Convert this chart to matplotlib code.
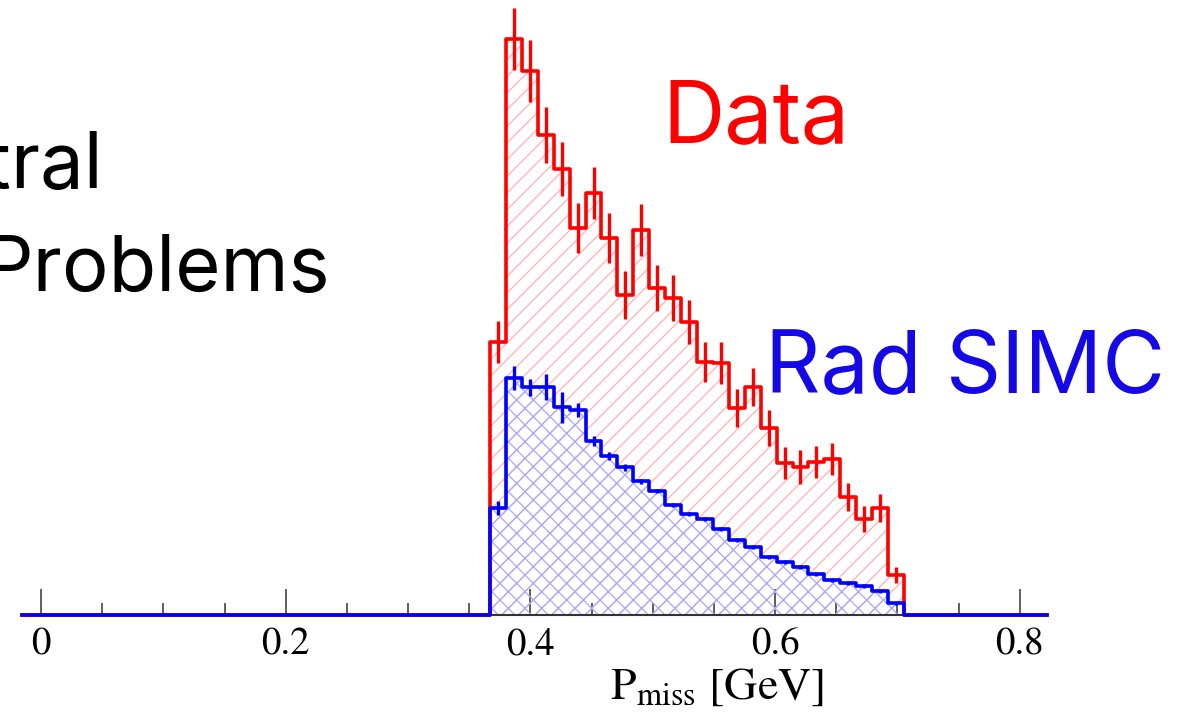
import numpy as np
import matplotlib
matplotlib.use('Agg')
import matplotlib.pyplot as plt

# binning of the missing momentum histograms
pm_lo, pm_hi, nbins = 0.367, 0.7053, 26
edges = np.linspace(pm_lo, pm_hi, nbins + 1)
centers = 0.5 * (edges[:-1] + edges[1:])

# measured counts and statistical errors
data_counts = [273, 576, 544, 480, 446, 387, 422, 377, 320, 385, 327, 317, 293,
               253, 252, 207, 228, 187, 152, 148, 153, 156, 118, 96, 107, 40]
data_err = [21, 31, 31, 28, 27, 25, 26, 25, 24, 26, 23, 23, 22,
            20, 21, 19, 19, 18, 16, 17, 16, 16, 14, 13, 14, 8]

# radiative SIMC simulation
simc_counts = [107, 237, 228, 228, 208, 205, 174, 159, 148, 134, 124, 110, 101,
               96, 86, 75, 68, 58, 53, 48, 41, 35, 32, 29, 24, 12]
simc_err = [7, 12, 8.5, 13, 15.5, 7, 5, 4, 3.5, 2.5, 2, 2, 2,
            2, 2, 2, 2, 2, 2, 2, 2, 2, 2, 2, 2, 2]

xticks = [0, 0.2, 0.4, 0.6, 0.8]
xticklabels = ['0', '0.2', '0.4', '0.6', '0.8']

W, H = 1190, 714
x_left, x_right = -0.0155, 0.8222

plt.rcParams['hatch.linewidth'] = 0.9
plt.rcParams['mathtext.fontset'] = 'stix'

fig = plt.figure(figsize=(W / 100, H / 100), dpi=100)
ax = fig.add_axes([22 / W, (H - 615) / H, (1047 - 22) / W, 615 / H])
ax.set_xlim(x_left, x_right)
ax.set_ylim(0, 615)


def draw_hist(counts, errs, color, hatch_color, hatch):
    vals = np.array(counts, dtype=float)
    # hatched fill
    ax.fill_between(edges, np.append(vals, vals[-1]), step='post',
                    facecolor='none', edgecolor=hatch_color, hatch=hatch,
                    linewidth=0, zorder=2)
    # outline over the whole axis range, zero outside the filled bins
    full_edges = np.concatenate([[x_left], edges, [x_right]])
    full_vals = np.concatenate([[0], vals, [0, 0]])
    ax.step(full_edges, full_vals, where='post', color=color, lw=2.6,
            zorder=4, clip_on=False)
    ax.vlines(centers, vals - np.array(errs), vals + np.array(errs),
              color=color, lw=2.4, zorder=4)


draw_hist(data_counts, data_err, '#ff0000', '#ffb0b0', '//')
draw_hist(simc_counts, simc_err, '#0000ff', '#a8a8ff', 'xx')

for s in ['top', 'left', 'right']:
    ax.spines[s].set_visible(False)
ax.spines['bottom'].set_color('#333333')
ax.spines['bottom'].set_linewidth(1.5)
ax.set_yticks([])
ax.set_xticks(xticks)
ax.set_xticklabels(xticklabels, fontfamily='STIXGeneral', fontsize=28)
ax.set_xticks(np.arange(0.05, 0.8, 0.05), minor=True)
ax.tick_params(axis='x', which='major', direction='in', length=19, width=1.1,
               color='#333333', pad=9)
ax.tick_params(axis='x', which='minor', direction='in', length=9, width=1.1,
               color='#333333')

# axis title
fig.text(717 / W, 1 - 699 / H, r'P$_{\mathrm{miss}}$ [GeV]', color='black',
         fontfamily='STIXGeneral', fontsize=33, va='baseline', ha='center')

fig.text(662 / W, 1 - 141.7 / H, 'Data', color='#ff0000', fontsize=62,
         fontfamily='Inter', va='baseline', ha='left')
fig.text(765 / W, 1 - 391.7 / H, 'Rad SIMC', color='#1508e6', fontsize=62,
         fontfamily='Inter', va='baseline', ha='left')
fig.text(103 / W, 1 - 188 / H, 'Spectral', color='black', fontsize=56,
         fontfamily='Inter', va='baseline', ha='right')
fig.text(330 / W, 1 - 290.7 / H, 'Problems', color='black', fontsize=56,
         fontfamily='Inter', va='baseline', ha='right')

fig.savefig('out.png', dpi=100)
